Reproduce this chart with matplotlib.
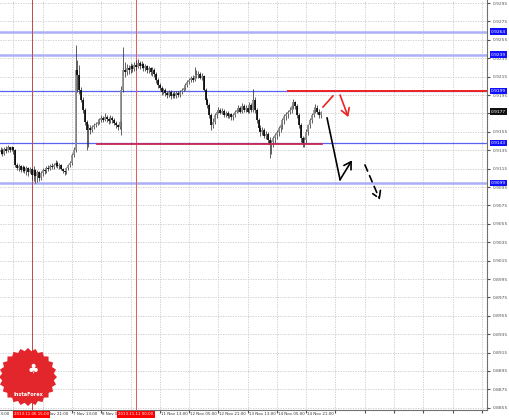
import numpy as np
import matplotlib.pyplot as plt
from matplotlib.patches import Polygon

# H1 bars, first visible bar = 5 Nov 22:00 (bar index 0)
first_open = 0.9133
closes = [0.9135, 0.9131, 0.9136, 0.9134, 0.9138, 0.9135, 0.9138, 0.9135, 0.9119, 0.9116,
          0.9118, 0.9114, 0.9117, 0.9112, 0.9116, 0.9111, 0.9115, 0.9108, 0.9114, 0.9107,
          0.9111, 0.9105, 0.9110, 0.9114, 0.9112, 0.9116, 0.9115, 0.9118, 0.9117, 0.9119,
          0.9121, 0.9118, 0.9119, 0.9115, 0.9112, 0.9111, 0.9116, 0.9119, 0.9121, 0.9130,
          0.9135, 0.9222, 0.9217, 0.9201, 0.9190, 0.9179, 0.9166, 0.9157, 0.9159, 0.9157,
          0.9160, 0.9162, 0.9164, 0.9166, 0.9168, 0.9170, 0.9168, 0.9171, 0.9169, 0.9167,
          0.9170, 0.9168, 0.9165, 0.9162, 0.9160, 0.9166, 0.9201, 0.9222, 0.9220, 0.9224,
          0.9222, 0.9227, 0.9223, 0.9228, 0.9226, 0.9230, 0.9227, 0.9229, 0.9224, 0.9227,
          0.9222, 0.9224, 0.9220, 0.9222, 0.9218, 0.9211, 0.9206, 0.9203, 0.9198, 0.9201,
          0.9197, 0.9195, 0.9198, 0.9194, 0.9196, 0.9194, 0.9197, 0.9195, 0.9198, 0.9201,
          0.9203, 0.9206, 0.9209, 0.9211, 0.9214, 0.9211, 0.9216, 0.9217, 0.9218, 0.9214,
          0.9216, 0.9201, 0.9190, 0.9184, 0.9173, 0.9162, 0.9166, 0.9173, 0.9177, 0.9179,
          0.9176, 0.9178, 0.9173, 0.9176, 0.9172, 0.9174, 0.9171, 0.9173, 0.9177, 0.9179,
          0.9181, 0.9177, 0.9183, 0.9179, 0.9181, 0.9177, 0.9184, 0.9179, 0.9190, 0.9179,
          0.9168, 0.9159, 0.9155, 0.9157, 0.9151, 0.9153, 0.9146, 0.9141, 0.9144, 0.9148,
          0.9152, 0.9155, 0.9159, 0.9162, 0.9168, 0.9172, 0.9174, 0.9177, 0.9179, 0.9183,
          0.9187, 0.9183, 0.9173, 0.9162, 0.9148, 0.9143, 0.9146, 0.9155, 0.9162, 0.9168,
          0.9173, 0.9179, 0.9181, 0.9177, 0.9173, 0.9177]
highs = [0.9138, 0.9137, 0.9139, 0.9140, 0.9141, 0.9139, 0.9140, 0.9139, 0.9136, 0.9121,
         0.9120, 0.9119, 0.9119, 0.9118, 0.9118, 0.9117, 0.9117, 0.9116, 0.9118, 0.9115,
         0.9113, 0.9112, 0.9112, 0.9116, 0.9116, 0.9118, 0.9119, 0.9120, 0.9121, 0.9121,
         0.9124, 0.9123, 0.9121, 0.9120, 0.9116, 0.9114, 0.9117, 0.9120, 0.9123, 0.9132,
         0.9138, 0.9249, 0.9233, 0.9228, 0.9204, 0.9193, 0.9181, 0.9168, 0.9163, 0.9162,
         0.9162, 0.9165, 0.9166, 0.9169, 0.9170, 0.9173, 0.9172, 0.9175, 0.9173, 0.9171,
         0.9173, 0.9172, 0.9170, 0.9167, 0.9164, 0.9168, 0.9205, 0.9247, 0.9231, 0.9229,
         0.9228, 0.9230, 0.9229, 0.9231, 0.9233, 0.9234, 0.9232, 0.9232, 0.9230, 0.9229,
         0.9228, 0.9227, 0.9226, 0.9225, 0.9224, 0.9220, 0.9213, 0.9208, 0.9205, 0.9203,
         0.9203, 0.9199, 0.9200, 0.9200, 0.9198, 0.9199, 0.9199, 0.9199, 0.9200, 0.9203,
         0.9205, 0.9208, 0.9211, 0.9214, 0.9216, 0.9217, 0.9226, 0.9222, 0.9221, 0.9220,
         0.9219, 0.9217, 0.9203, 0.9192, 0.9186, 0.9175, 0.9170, 0.9175, 0.9179, 0.9182,
         0.9181, 0.9181, 0.9180, 0.9178, 0.9178, 0.9176, 0.9176, 0.9175, 0.9179, 0.9181,
         0.9184, 0.9183, 0.9186, 0.9185, 0.9184, 0.9183, 0.9187, 0.9186, 0.9202, 0.9193,
         0.9181, 0.9170, 0.9162, 0.9160, 0.9159, 0.9156, 0.9155, 0.9149, 0.9146, 0.9150,
         0.9154, 0.9157, 0.9161, 0.9165, 0.9170, 0.9174, 0.9177, 0.9179, 0.9182, 0.9186,
         0.9191, 0.9189, 0.9185, 0.9176, 0.9165, 0.9150, 0.9149, 0.9158, 0.9164, 0.9170,
         0.9176, 0.9182, 0.9185, 0.9184, 0.9180, 0.9178]
lows = [0.9131, 0.9129, 0.9130, 0.9132, 0.9133, 0.9133, 0.9134, 0.9131, 0.9117, 0.9113,
        0.9112, 0.9111, 0.9111, 0.9110, 0.9108, 0.9107, 0.9110, 0.9103, 0.9101, 0.9099,
        0.9100, 0.9101, 0.9103, 0.9107, 0.9109, 0.9110, 0.9112, 0.9113, 0.9115, 0.9115,
        0.9117, 0.9116, 0.9115, 0.9113, 0.9110, 0.9108, 0.9109, 0.9114, 0.9117, 0.9119,
        0.9128, 0.9133, 0.9198, 0.9196, 0.9187, 0.9176, 0.9162, 0.9135, 0.9139, 0.9153,
        0.9155, 0.9158, 0.9160, 0.9162, 0.9164, 0.9166, 0.9166, 0.9167, 0.9166, 0.9164,
        0.9165, 0.9165, 0.9162, 0.9159, 0.9157, 0.9158, 0.9152, 0.9198, 0.9215, 0.9217,
        0.9218, 0.9219, 0.9220, 0.9221, 0.9222, 0.9224, 0.9223, 0.9224, 0.9221, 0.9221,
        0.9219, 0.9219, 0.9217, 0.9216, 0.9215, 0.9208, 0.9203, 0.9200, 0.9195, 0.9196,
        0.9194, 0.9192, 0.9193, 0.9191, 0.9192, 0.9192, 0.9192, 0.9193, 0.9193, 0.9196,
        0.9199, 0.9201, 0.9204, 0.9207, 0.9209, 0.9209, 0.9210, 0.9213, 0.9214, 0.9212,
        0.9211, 0.9199, 0.9187, 0.9181, 0.9170, 0.9157, 0.9159, 0.9164, 0.9170, 0.9175,
        0.9174, 0.9174, 0.9171, 0.9171, 0.9170, 0.9170, 0.9168, 0.9168, 0.9171, 0.9175,
        0.9177, 0.9175, 0.9176, 0.9177, 0.9177, 0.9175, 0.9176, 0.9177, 0.9177, 0.9176,
        0.9165, 0.9156, 0.9151, 0.9152, 0.9148, 0.9147, 0.9142, 0.9127, 0.9131, 0.9138,
        0.9143, 0.9147, 0.9150, 0.9155, 0.9158, 0.9164, 0.9168, 0.9170, 0.9174, 0.9176,
        0.9180, 0.9180, 0.9170, 0.9159, 0.9144, 0.9138, 0.9139, 0.9143, 0.9152, 0.9159,
        0.9165, 0.9171, 0.9176, 0.9174, 0.9170, 0.9170]

# time axis (bar index of each grid line) and labels
grid_bars = [-9, 7, 23, 39, 55, 71, 87, 103, 119, 135, 151, 167, 183, 199, 215, 231, 247, 263]
time_labels = ['5 Nov 13:00', '6 Nov 05:00', '6 Nov 21:00', '7 Nov 13:00', '8 Nov 05:00',
               '8 Nov 21:00', '11 Nov 13:00', '12 Nov 05:00', '12 Nov 21:00', '13 Nov 13:00',
               '14 Nov 05:00', '14 Nov 21:00']
marker_bars = [17, 74]
marker_labels = ['2013.11.06 15:00', '2013.11.11 00:00']

price_ticks = np.round(np.arange(0.9295, 0.8850, -0.0020), 4)

# horizontal levels
levels = [0.9264, 0.9239, 0.9199, 0.9143, 0.9099]
level_light = [True, True, False, False, True]
current_price = 0.9177

# red resistance / support segments (bar start, bar end, price)
res_line = (157, 266, 0.9199)
sup_line = (52.5, 175.5, 0.9142)

# forecast sketch paths
solid_x = [178.4, 185.5, 192.0]
solid_y = [0.9170, 0.9103, 0.9124]
dash_x = [199.1, 207.3]
dash_y = [0.9119, 0.9081]
red1_x = [176.2, 181.6]
red1_y = [0.9182, 0.9194]
red2_x = [185.5, 190.0]
red2_y = [0.9195, 0.9171]

W, H = 510, 420
fig = plt.figure(figsize=(W / 100, H / 100), dpi=100)
ax = fig.add_axes([0, 10 / H, 487 / W, 410 / H])
ax.set_xlim(-0.33, 265.8)
ax.set_ylim(0.88526, 0.92983)

# grid
for gb in grid_bars:
    ax.axvline(gb, color='#c8c8c8', lw=0.6, ls=(0, (1.5, 1.5)), zorder=0)
for pt in price_ticks:
    ax.axhline(pt, color='#c8c8c8', lw=0.6, ls=(0, (1.5, 1.5)), zorder=0)

# levels
for lv, light in zip(levels, level_light):
    if light:
        ax.axhline(lv, color='#aab0f6', lw=1.8, zorder=1)
    else:
        ax.axhline(lv, color='#5a62f0', lw=0.9, zorder=1)

ax.axvline(marker_bars[0], color='#c04848', lw=0.7, zorder=1)
ax.axvline(marker_bars[1], color='#ee5555', lw=0.7, zorder=1)

# candles
opens = [first_open] + closes[:-1]
idx = np.arange(len(closes))
o = np.array(opens)
c = np.array(closes)
up = c >= o
ax.vlines(idx, lows, highs, color='#202020', lw=0.5, zorder=2)
ax.vlines(idx[up], o[up], c[up], color='#8a8a8a', lw=1.2, zorder=3)
ax.vlines(idx[~up], o[~up], c[~up], color='#000000', lw=1.2, zorder=3)

ax.plot([res_line[0], res_line[1]], [res_line[2]] * 2, color='#ee2222', lw=1.4, zorder=4)
ax.plot([sup_line[0], sup_line[1]], [sup_line[2]] * 2, color='#c82850', lw=1.3, zorder=4)

# forecast arrows
ax.plot(solid_x[:2], solid_y[:2], color='k', lw=1.2, zorder=5)
ax.annotate('', xy=(solid_x[2], solid_y[2]), xytext=(solid_x[1], solid_y[1]),
            arrowprops=dict(arrowstyle='->,head_length=0.5,head_width=0.3', color='k', lw=1.2,
                            shrinkA=0, shrinkB=0), zorder=5)
ax.annotate('', xy=(dash_x[1], dash_y[1]), xytext=(dash_x[0], dash_y[0]),
            arrowprops=dict(arrowstyle='->,head_length=0.5,head_width=0.3', color='k', lw=1.2,
                            ls=(0, (4, 3)), shrinkA=0, shrinkB=0), zorder=5)
ax.plot(red1_x, red1_y, color='#ee2222', lw=1.2, zorder=5)
ax.annotate('', xy=(red2_x[1], red2_y[1]), xytext=(red2_x[0], red2_y[0]),
            arrowprops=dict(arrowstyle='->,head_length=0.5,head_width=0.3', color='#ee2222',
                            lw=1.2, shrinkA=0, shrinkB=0), zorder=5)

# axes styling
for s in ['left', 'top']:
    ax.spines[s].set_visible(False)
for s in ['right', 'bottom']:
    ax.spines[s].set_color('#707070')
    ax.spines[s].set_linewidth(0.8)
ax.yaxis.tick_right()
ax.set_yticks(price_ticks)
ax.set_yticklabels(['%.4f' % p for p in price_ticks])
ax.tick_params(axis='y', labelsize=3.2, length=2, pad=2, colors='#505050')
ax.set_xticks(grid_bars[1:])
ax.set_xticklabels([])
ax.tick_params(axis='x', length=2, colors='#505050')

xt = ax.get_xaxis_transform()
for gb, lab in zip(grid_bars, time_labels):
    ax.text(gb + 0.5, -0.006, lab, transform=xt, ha='left', va='top', fontsize=2.9,
            color='#303030', clip_on=False, zorder=6)
for mb, lab in zip(marker_bars, marker_labels):
    ax.text(mb, -0.006, lab, transform=xt, ha='center', va='top', fontsize=2.9,
            color='white', clip_on=False, zorder=7,
            bbox=dict(boxstyle='square,pad=0.3', fc='#ff0000', ec='none'))

yt = ax.get_yaxis_transform()
for lv in levels:
    ax.text(1.008, lv, '%.4f' % lv, transform=yt, ha='left', va='center', fontsize=3.2,
            color='white', clip_on=False, zorder=7,
            bbox=dict(boxstyle='square,pad=0.25', fc='#1010ff', ec='none'))
ax.text(1.008, current_price, '%.4f' % current_price, transform=yt, ha='left', va='center',
        fontsize=3.2, color='white', clip_on=False, zorder=7,
        bbox=dict(boxstyle='square,pad=0.25', fc='#101010', ec='none'))

# InstaForex badge, bottom left
ang = np.linspace(0, 2 * np.pi, 49)[:-1]
rad = np.where(np.arange(48) % 2 == 0, 29, 26)
cx, cy = 28, 377
pts = np.column_stack([(cx + rad * np.cos(ang)) / W, 1 - (cy + rad * np.sin(ang)) / H])
fig.add_artist(Polygon(pts, closed=True, transform=fig.transFigure, fc='#e3262b', ec='none',
                       zorder=10))
fig.text(33 / W, 1 - 369 / H, '\u2663', ha='center', va='center', fontsize=9, color='white',
         zorder=11)
fig.text(28 / W, 1 - 394 / H, 'InstaForex', ha='center', va='center', fontsize=3.6,
         color='white', fontweight='bold', zorder=11)

fig.savefig('out.png', dpi=100, facecolor='white')
